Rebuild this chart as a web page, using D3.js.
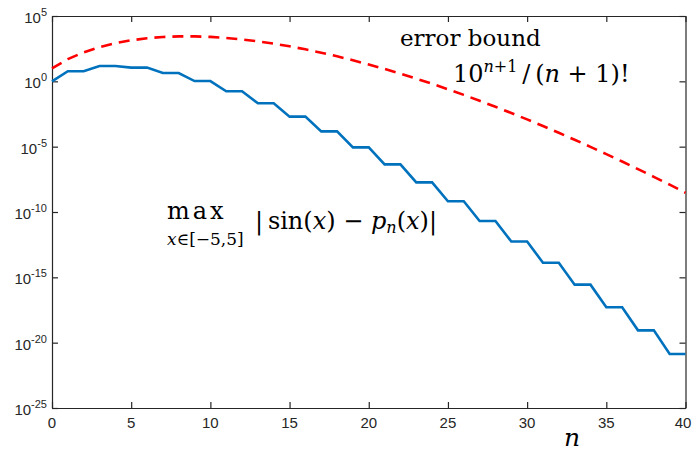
<!DOCTYPE html>
<html>
<head>
<meta charset="utf-8">
<script src="https://cdn.jsdelivr.net/npm/d3@7"></script>
<style>
  body { margin: 0; background: #fff; }
  svg { display: block; }
  .tick-label { font-family: "Liberation Sans", Arial, sans-serif; fill: #262626; }
  .math { font-family: "DejaVu Serif", serif; fill: #000; }
</style>
</head>
<body>
<svg width="692" height="452"></svg>
<script>
// polynomial degree n
var degrees = [0,1,2,3,4,5,6,7,8,9,10,11,12,13,14,15,16,17,18,19,20,
	21,22,23,24,25,26,27,28,29,30,31,32,33,34,35,36,37,38,39,40];

// max |sin(x) - p_n(x)| over [-5,5]
var maxError = [1.0, 5.96, 5.96, 14.9, 14.9, 11.2, 11.2, 4.33, 4.33, 1.05, 1.05,
	0.175, 0.175, 0.021, 0.021, 1.99e-3, 1.99e-3, 1.47e-4, 1.47e-4, 8.87e-6, 8.87e-6,
	4.42e-7, 4.42e-7, 1.85e-8, 1.85e-8, 6.63e-10, 6.63e-10, 2.05e-11, 2.05e-11,
	5.53e-13, 5.53e-13, 1.31e-14, 1.31e-14, 2.76e-16, 2.76e-16, 5.2e-18, 5.2e-18,
	8.78e-20, 8.78e-20, 1.34e-21, 1.34e-21];

// error bound 10^(n+1)/(n+1)!
var errorBound = [10, 50, 166.7, 416.7, 833.3, 1389, 1984, 2480, 2756, 2756, 2505,
	2088, 1606, 1147, 764.7, 477.9, 281.1, 156.2, 82.2, 41.1, 19.57,
	8.90, 3.87, 1.61, 0.645, 0.248, 0.0918, 0.0328, 0.0113, 3.77e-3, 1.22e-3,
	3.80e-4, 1.15e-4, 3.39e-5, 9.68e-6, 2.69e-6, 7.26e-7, 1.91e-7, 4.90e-8, 1.23e-8, 2.99e-9];

var xTicks = [0, 5, 10, 15, 20, 25, 30, 35, 40];
var yTickExps = [-25, -20, -15, -10, -5, 0, 5];

var margins = {top: 16, right: 6.5, bottom: 44, left: 52};
var svg = d3.select("svg");
var width = +svg.attr("width") - margins.left - margins.right;
var height = +svg.attr("height") - margins.top - margins.bottom;

var g = svg.append("g")
	.attr("transform", "translate(" + margins.left + "," + margins.top + ")");

var x = d3.scaleLinear().domain([0, 40]).range([0, width]);
var y = d3.scaleLog().domain([1e-25, 1e5]).range([height, 0]);

var axisColor = "#262626";
var tickLen = 6;

// axis box + inward ticks
function styleAxis(sel){
	sel.select(".domain").attr("stroke", axisColor).attr("stroke-width", 1.2);
	sel.selectAll(".tick line").attr("stroke", axisColor).attr("stroke-width", 1.2);
	sel.selectAll("text").remove();
}

g.append("g").attr("transform", "translate(0," + height + ")")
	.call(d3.axisBottom(x).tickValues(xTicks).tickSizeInner(-tickLen).tickSizeOuter(0))
	.call(styleAxis);
g.append("g")
	.call(d3.axisTop(x).tickValues(xTicks).tickSizeInner(-tickLen).tickSizeOuter(0))
	.call(styleAxis);
var yTickVals = yTickExps.map(function(e){ return Math.pow(10, e); });
g.append("g")
	.call(d3.axisLeft(y).tickValues(yTickVals).tickSizeInner(-tickLen).tickSizeOuter(0))
	.call(styleAxis);
g.append("g").attr("transform", "translate(" + width + ",0)")
	.call(d3.axisRight(y).tickValues(yTickVals).tickSizeInner(-tickLen).tickSizeOuter(0))
	.call(styleAxis);

// x tick labels (last one nudged so it stays inside the window)
g.selectAll(".xlab").data(xTicks).enter().append("text")
	.attr("class", "tick-label")
	.attr("x", function(d){ return Math.min(x(d), width - 2.5); })
	.attr("y", height + 20)
	.attr("text-anchor", "middle")
	.attr("font-size", 15)
	.text(function(d){ return d; });

// y tick labels 10^e
var ylab = g.selectAll(".ylab").data(yTickExps).enter().append("text")
	.attr("class", "tick-label")
	.attr("y", function(d){ return y(Math.pow(10, d)) + 7; })
	.attr("font-size", 15);
ylab.append("tspan").text("10");
ylab.append("tspan")
	.attr("font-size", 11)
	.attr("dy", -7)
	.text(function(d){ return d; });
// right-align the whole label (with exponent) against the axis
ylab.attr("x", function(d){ return -5 - this.getComputedTextLength(); });

var line = d3.line()
	.x(function(d, i){ return x(degrees[i]); })
	.y(function(d){ return y(d); });

g.append("path")
	.datum(errorBound)
	.attr("d", line)
	.attr("fill", "none")
	.attr("stroke", "#FF0000")
	.attr("stroke-width", 2.6)
	.attr("stroke-dasharray", "11,7");

g.append("path")
	.datum(maxError)
	.attr("d", line)
	.attr("fill", "none")
	.attr("stroke", "#0072BD")
	.attr("stroke-width", 2.6);

// annotations
svg.append("text").attr("class", "math")
	.attr("x", 400).attr("y", 46).attr("font-size", 23)
	.text("error bound");

var bound = svg.append("text").attr("class", "math")
	.attr("x", 453).attr("y", 82).attr("font-size", 24);
bound.append("tspan").text("10");
bound.append("tspan").attr("font-size", 16).attr("dy", -10)
	.html('<tspan font-style="italic">n</tspan>+1');
bound.append("tspan").attr("dy", 10).text("\u2009/\u2009(");
bound.append("tspan").attr("font-style", "italic").text("n");
bound.append("tspan").text(" + 1)!");

svg.append("text").attr("class", "math")
	.attr("x", 167).attr("y", 219).attr("font-size", 24)
	.attr("letter-spacing", 3)
	.text("max");
var sub = svg.append("text").attr("class", "math")
	.attr("x", 167).attr("y", 245).attr("font-size", 17);
sub.append("tspan").attr("font-style", "italic").text("x");
sub.append("tspan").text("\u2208[\u22125,5]");

var absd = svg.append("text").attr("class", "math")
	.attr("x", 255).attr("y", 229).attr("font-size", 24);
absd.append("tspan").text("|\u2009sin(");
absd.append("tspan").attr("font-style", "italic").text("x");
absd.append("tspan").text(") \u2212 ");
absd.append("tspan").attr("font-style", "italic").text("p");
absd.append("tspan").attr("font-style", "italic").attr("font-size", 16).attr("dy", 4).text("n");
absd.append("tspan").attr("dy", -4).text("(");
absd.append("tspan").attr("font-style", "italic").text("x");
absd.append("tspan").text(")|");

svg.append("text").attr("class", "math")
	.attr("x", 572).attr("y", 446).attr("font-size", 25)
	.attr("font-style", "italic").attr("text-anchor", "middle")
	.text("n");
</script>
</body>
</html>
